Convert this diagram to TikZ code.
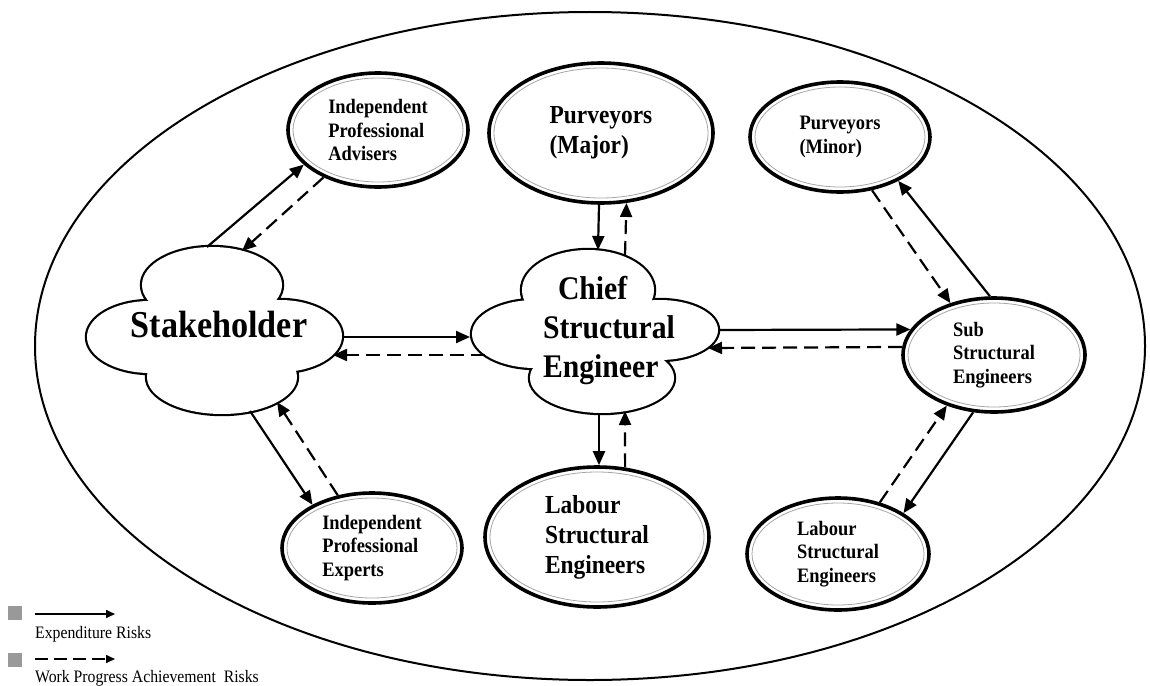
\documentclass[tikz,border=0pt]{standalone}
\usepackage{fontspec}
\setmainfont{Liberation Serif}[FakeStretch=0.9]
\usetikzlibrary{arrows.meta,shapes.geometric}
\begin{document}
\begin{tikzpicture}[x=1pt,y=-1pt,
  conn/.style={line width=2.2pt,-{Triangle[length=14pt,width=12pt]}},
  dconn/.style={conn,dash pattern=on 14pt off 7pt},
  enode/.style={ellipse,draw,line width=3.6pt,fill=white,inner sep=0pt,align=left,
     font=\bfseries\fontsize{20.5}{23.5}\selectfont},
  bignode/.style={enode,font=\bfseries\fontsize{26}{30}\selectfont},
  innerline/.style={draw=black!35,line width=0.8pt},
  lobe/.style={line width=4.4pt},
  legsq/.style={fill=black!40,minimum width=14pt,minimum height=14pt,inner sep=0pt},
  legtext/.style={anchor=base west,inner sep=0pt,font=\fontsize{17.5}{20}\selectfont},
  legarrow/.style={line width=1.6pt,-{Triangle[length=9pt,width=8pt]}},
]
\useasboundingbox (0,0) rectangle (1150,685);

% outer ellipse
\draw[line width=2pt] (590,346) ellipse [x radius=555, y radius=334];

% Stakeholder cloud
\draw[lobe] (212,285) ellipse [x radius=70, y radius=38]
            (150,337) ellipse [x radius=63, y radius=36]
            (280,336) ellipse [x radius=62, y radius=36]
            (222,377) ellipse [x radius=75, y radius=37];
\fill[white] (212,285) ellipse [x radius=70, y radius=38]
            (150,337) ellipse [x radius=63, y radius=36]
            (280,336) ellipse [x radius=62, y radius=36]
            (222,377) ellipse [x radius=75, y radius=37]
            (215,333) ellipse [x radius=60, y radius=35];
\node[inner sep=0pt,font=\bfseries\fontsize{38}{44}\selectfont] (stake) at (219,324) {Stakeholder};

% Chief cloud
\draw[lobe] (588,290) ellipse [x radius=66, y radius=40]
            (535,334) ellipse [x radius=63, y radius=34]
            (660,330) ellipse [x radius=58, y radius=30]
            (602,378) ellipse [x radius=72, y radius=35];
\fill[white] (588,290) ellipse [x radius=66, y radius=40]
            (535,334) ellipse [x radius=63, y radius=34]
            (660,330) ellipse [x radius=58, y radius=30]
            (602,378) ellipse [x radius=72, y radius=35]
            (595,333) ellipse [x radius=60, y radius=30];
\node[inner sep=0pt,align=left,font=\bfseries\fontsize{33}{39}\selectfont] (chief) at (609,331) {\hspace*{15pt}Chief\\Structural\\Engineer};

% ellipse nodes
\node[enode,minimum width=180pt,minimum height=114pt] (adv) at (378,130) {Independent\\Professional\\Advisers};
\draw[innerline] (adv.center) ellipse [x radius=85, y radius=52];
\node[enode,minimum width=180pt,minimum height=110pt] (exp) at (372,548) {Independent\\Professional\\Experts};
\draw[innerline] (exp.center) ellipse [x radius=85, y radius=50];
\node[bignode,minimum width=224pt,minimum height=140pt] (major) at (601,133) {Purveyors\\(Major)};
\draw[innerline] (major.center) ellipse [x radius=107, y radius=65];
\node[bignode,minimum width=224pt,minimum height=140pt] (labc) at (597,537) {Labour\\Structural\\Engineers};
\draw[innerline] (labc.center) ellipse [x radius=107, y radius=65];
\node[enode,minimum width=180pt,minimum height=110pt] (minor) at (840,137) {Purveyors\\(Minor)};
\draw[innerline] (minor.center) ellipse [x radius=85, y radius=50];
\node[enode,minimum width=182pt,minimum height=114pt] (sub) at (994,355) {Sub\\Structural\\Engineers};
\draw[innerline] (sub.center) ellipse [x radius=86, y radius=52];
\node[enode,minimum width=182pt,minimum height=112pt] (labr) at (838,554) {Labour\\Structural\\Engineers};
\draw[innerline] (labr.center) ellipse [x radius=86, y radius=51];

% connectors: stakeholder
\draw[conn]  ([shift={(-12,-77)}]stake.center) -- (adv.205);
\draw[dconn] (adv.221) -- ([shift={(23,-73)}]stake.center);
\draw[conn]  ([shift={(31,87)}]stake.center) -- (exp.144);
\draw[dconn] (exp.123) -- ([shift={(58,78)}]stake.center);
\draw[conn]  ([shift={(123,13)}]stake.center) -- ([shift={(-139,6)}]chief.center);
\draw[dconn] ([shift={(-124,24)}]chief.center) -- ([shift={(114,31)}]stake.center);

% chief - purveyors major / labour
\draw[conn]  ([xshift=-2pt]major.south) -- ([shift={(-11,-81)}]chief.center);
\draw[dconn] ([shift={(16,-76)}]chief.center) -- (major.-70);
\draw[conn]  ([shift={(-10,82)}]chief.center) -- ([xshift=2pt]labc.north);
\draw[dconn] (labc.68) -- ([shift={(16,80)}]chief.center);

% chief - sub
\draw[conn]  ([shift={(109,-1)}]chief.center) -- (sub.163);
\draw[dconn] (sub.175) -- ([shift={(99,17)}]chief.center);

% sub - minor / labour right
\draw[dconn] (minor.-59) -- (sub.130);
\draw[conn]  (sub.94) -- (minor.-37);
\draw[dconn] (labr.51) -- (sub.227);
\draw[conn]  (sub.250) -- (labr.32);

% legend
\node[legsq] (sq1) at (15,613) {};
\coordinate (l1a) at (35,614);
\coordinate (l1b) at (115,614);
\draw[legarrow] (l1a) -- (l1b);
\node[legtext] (t1) at (35,638) {Expenditure Risks};
\node[legsq] (sq2) at (15,660) {};
\coordinate (l2a) at (35,659);
\coordinate (l2b) at (115,659);
\draw[legarrow,dash pattern=on 13pt off 6pt] (l2a) -- (l2b);
\node[legtext] (t2) at (35,682) {Work Progress Achievement\ \ Risks};
\end{tikzpicture}
\end{document}
